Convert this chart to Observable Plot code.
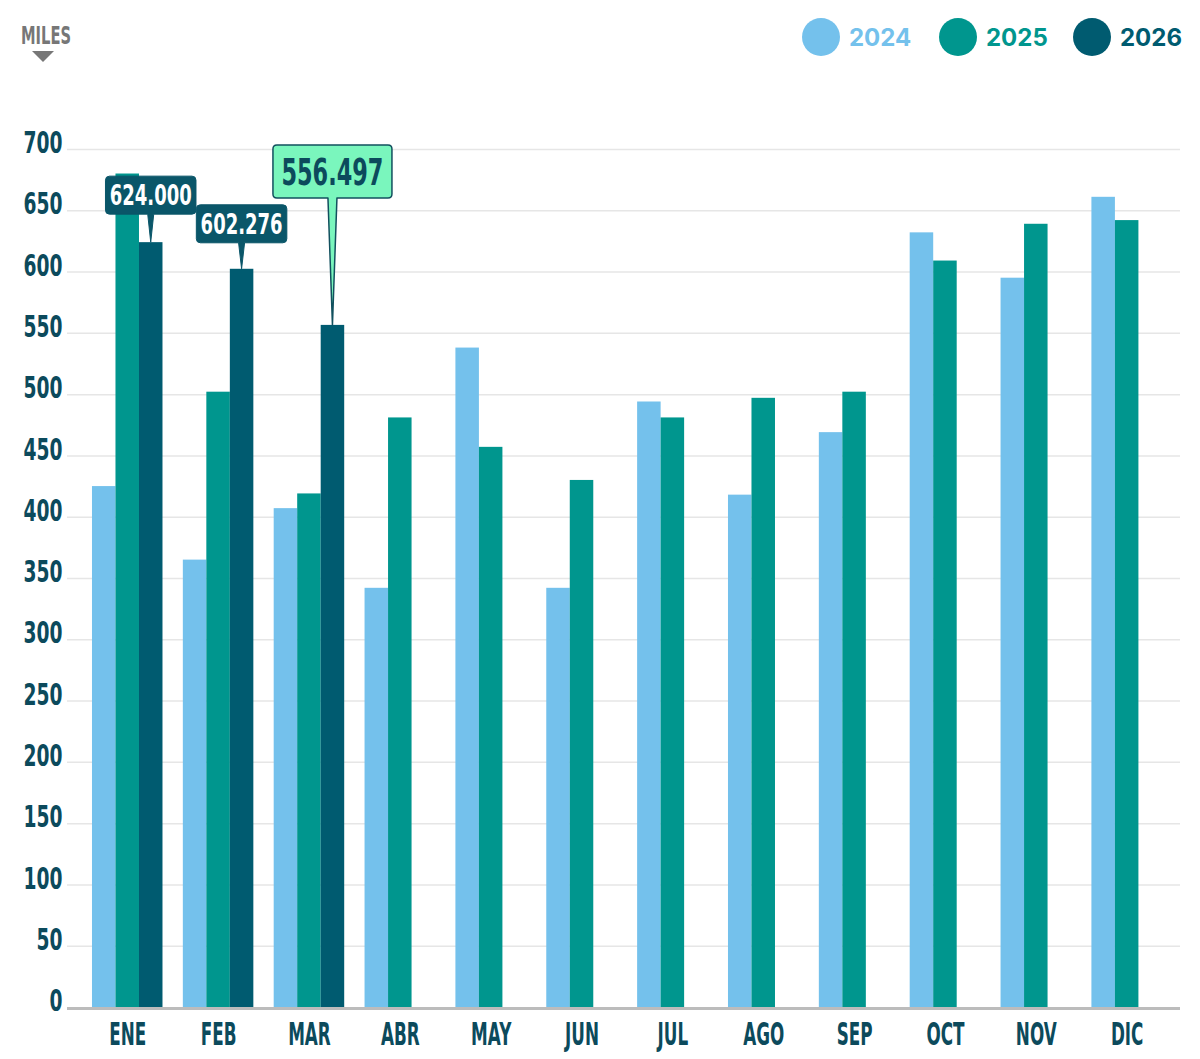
<!DOCTYPE html>
<html>
<head>
<meta charset="utf-8">
<script src="https://cdn.jsdelivr.net/npm/d3@7"></script>
<script src="https://cdn.jsdelivr.net/npm/@observablehq/plot@0.6"></script>
<style>
  body { margin: 0; background: #fff; }
  #wrap { position: relative; width: 1200px; height: 1059px; overflow: hidden; background: #fff; }
  #chart { position: absolute; left: 0; top: 0; }
  #unit { position: absolute; left: 21px; top: 23px; font-family: "Liberation Sans Narrow", "DejaVu Sans", sans-serif; font-stretch: condensed; font-weight: bold; font-size: 25px; color: #777; transform-origin: 0 0; white-space: nowrap; line-height: 1; }
  #unitArrow { position: absolute; left: 32px; top: 51px; }
  .leg { position: absolute; top: 18px; display: flex; align-items: center; font-family: Inter, Lato, sans-serif; font-weight: 700; font-size: 24px; }
  .leg .dot { width: 38px; height: 38px; border-radius: 50%; margin-right: 9px; }
</style>
</head>
<body>
<div id="wrap">
  <div id="chart"></div>
  <div id="unit">MILES</div>
  <svg id="unitArrow" width="22" height="11"><polygon points="0,0 22,0 11,11" fill="#777"/></svg>
  <div id="legend"></div>
</div>
<script>
// ---- data ----
const months = ["ENE", "FEB", "MAR", "ABR", "MAY", "JUN", "JUL", "AGO", "SEP", "OCT", "NOV", "DIC"];
const years = ["2024", "2025", "2026"];
const v2024 = [425, 365, 407, 342, 538, 342, 494, 418, 469, 632, 595, 661];
const v2025 = [680, 502, 419, 481, 457, 430, 481, 497, 502, 609, 639, 642];
const v2026 = [624.000, 602.276, 556.497];
const yTicks = [0, 50, 100, 150, 200, 250, 300, 350, 400, 450, 500, 550, 600, 650, 700];
const calloutLabels = ["624.000", "602.276", "556.497"];
const colors = ["#74c1ec", "#00968e", "#005b70"];

const series = [v2024, v2025, v2026];
const rows = [];
years.forEach((yr, i) => series[i].forEach((v, j) => rows.push({month: months[j], year: yr, value: v})));
const callouts = v2026.map((v, j) => ({month: months[j], value: v, label: calloutLabels[j], highlight: j === v2026.length - 1}));

const textColor = "#0c4a5c";
const narrow = "'Liberation Sans Narrow', 'DejaVu Sans', sans-serif";

// bar placement inside each month band (3 slots)
const slotInsets = [[0, 2], [1, 1], [2, 0]];

function calloutMark(index, scales, values, dimensions) {
  const x = scales.x, y = scales.y;
  const bw = x.bandwidth ? x.bandwidth() : 70.5;
  const g = d3.create("svg:g").attr("class", "callouts");
  callouts.forEach((c, k) => {
    const cx = x(c.month) + bw * (2.5 / 3);
    const ty = y(c.value);
    const big = c.highlight;
    const w = big ? 119 : 90.5;
    const h = big ? 53 : 38;
    const gap = big ? 127 : (k === 0 ? 28 : 26);
    const bottom = ty - gap;
    const top = bottom - h;
    const left = cx - w / 2, right = cx + w / 2;
    const r = 4, pw = big ? 4.5 : 3;
    const p = `M${left + r},${top} H${right - r} Q${right},${top} ${right},${top + r} V${bottom - r} Q${right},${bottom} ${right - r},${bottom} H${cx + pw} L${cx},${ty} L${cx - pw},${bottom} H${left + r} Q${left},${bottom} ${left},${bottom - r} V${top + r} Q${left},${top} ${left + r},${top} Z`;
    g.append("path").attr("d", p)
      .attr("fill", big ? "#7af6bd" : "#0a5669")
      .attr("stroke", big ? "#12505e" : "#0a5669")
      .attr("stroke-width", big ? 1.5 : 1)
      .attr("stroke-linejoin", "round");
    g.append("text")
      .attr("class", big ? "co-big" : "co-small")
      .attr("transform", `translate(${cx},${top + h / 2})`)
      .attr("text-anchor", "middle")
      .attr("dy", "0.36em")
      .attr("font-family", narrow)
      .attr("font-stretch", "condensed")
      .attr("font-weight", "bold")
      .attr("font-size", big ? 38 : 28)
      .attr("fill", big ? textColor : "#fff")
      .text(c.label);
  });
  return g.node();
}

const chart = Plot.plot({
  width: 1200,
  height: 1059,
  marginTop: 149,
  marginBottom: 52,
  marginLeft: 67,
  marginRight: 20,
  style: {background: "transparent", overflow: "visible"},
  x: {domain: months, paddingInner: 0.224, paddingOuter: 0.237, align: 0.58, round: false, label: null, axis: null},
  y: {domain: [0, 700], label: null, axis: null},
  color: {domain: years, range: colors},
  marks: [
    Plot.ruleY(yTicks.filter(d => d > 0), {stroke: "#e6e6e6", strokeWidth: 1.5}),
    ...years.map((yr, i) => Plot.barY(rows.filter(d => d.year === yr), {
      x: "month", y: "value", fill: "year",
      insetLeft: slotInsets[i][0] * 23.5, insetRight: slotInsets[i][1] * 23.5
    })),
    Plot.ruleY([0], {stroke: "#bcbcbc", strokeWidth: 3, dy: 1}),
    Plot.axisY(yTicks, {
      tickSize: 0, tickPadding: 5, dy: -6, label: null,
      fontSize: 30, fontWeight: "bold", fontFamily: narrow, fill: textColor
    }),
    Plot.axisX({
      tickSize: 0, tickPadding: 15, label: null,
      fontSize: 32, fontWeight: "bold", fontFamily: narrow, fill: textColor
    }),
    calloutMark
  ]
});
document.getElementById("chart").appendChild(chart);

// ---- horizontal squeezing to emulate the condensed display face ----
function squeezeAll(nodes, sample, target) {
  nodes = Array.from(nodes);
  const s = nodes.find(n => n.textContent === sample) || nodes[0];
  if (!s) return;
  const w = s.getBBox().width;
  const k = target / w;
  nodes.forEach(t => {
    let tr = t.getAttribute("transform") || "";
    const xa = t.getAttribute("x");
    if (xa != null && !isNaN(+xa)) { t.removeAttribute("x"); tr += ` translate(${xa},0)`; }
    t.setAttribute("transform", `${tr} scale(${k},1)`);
  });
}
const allText = Array.from(chart.querySelectorAll("text"));
const xTexts = allText.filter(t => months.includes(t.textContent));
const yTexts = allText.filter(t => yTicks.map(String).includes(t.textContent));
squeezeAll(xTexts, "ENE", 37);
squeezeAll(yTexts, "700", 39);
squeezeAll(chart.querySelectorAll("text.co-small"), "624.000", 82);
squeezeAll(chart.querySelectorAll("text.co-big"), "556.497", 102);

// unit label
const unit = document.getElementById("unit");
const uw = unit.getBoundingClientRect().width;
unit.style.transform = `scaleX(${50 / uw})`;

// legend
const legend = document.getElementById("legend");
const legLeft = [802, 939, 1073];
years.forEach((yr, i) => {
  const d = document.createElement("div");
  d.className = "leg";
  d.style.left = legLeft[i] + "px";
  d.style.color = colors[i];
  d.innerHTML = `<span class="dot" style="background:${colors[i]}"></span><span>${yr}</span>`;
  legend.appendChild(d);
});
</script>
</body>
</html>
